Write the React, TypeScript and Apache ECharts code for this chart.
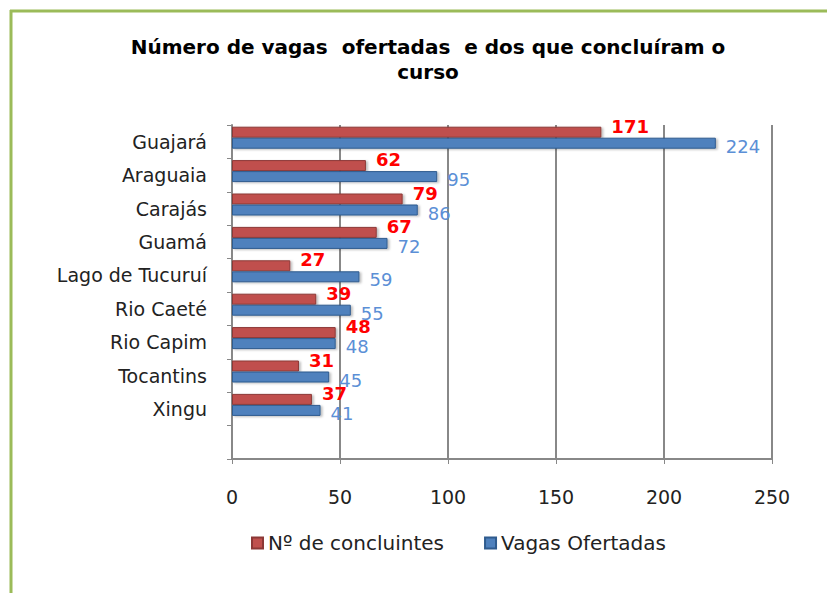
import React, { useEffect, useRef } from "react";
import * as echarts from "echarts";

const categories = [
  "Guajará",
  "Araguaia",
  "Carajás",
  "Guamá",
  "Lago de Tucuruí",
  "Rio Caeté",
  "Rio Capim",
  "Tocantins",
  "Xingu",
  "",
];
const concluintes = [171, 62, 79, 67, 27, 39, 48, 31, 37, null];
const vagas = [224, 95, 86, 72, 59, 55, 48, 45, 41, null];
const xTicks = { min: 0, max: 250, interval: 50 };
const titleText = "Número de vagas  ofertadas  e dos que concluíram o\ncurso";
const seriesNames = ["Nº de concluintes", "Vagas Ofertadas"];

export default function App() {
  const ref = useRef<HTMLDivElement>(null);
  useEffect(() => {
    if (!ref.current) return;
    const chart = echarts.init(ref.current, null, { renderer: "svg" });
    const labelFont = "'DejaVu Sans', sans-serif";
    chart.setOption({
      animation: false,
      backgroundColor: "#ffffff",
      title: {
        text: titleText,
        left: 423,
        textAlign: "center",
        top: 29,
        textStyle: {
          fontFamily: "'DejaVu Sans', sans-serif",
          fontWeight: "bold",
          fontSize: 20,
          lineHeight: 25,
          color: "#000",
        },
      },
      graphic: [
        {
          type: "line",
          shape: { x1: 10, y1: 11, x2: 827, y2: 11 },
          style: { stroke: "#9BBB59", lineWidth: 3 },
        },
        {
          type: "line",
          shape: { x1: 11, y1: 10, x2: 11, y2: 593 },
          style: { stroke: "#9BBB59", lineWidth: 3 },
        },
      ],
      legend: {
        bottom: 35,
        left: 246,
        itemWidth: 11,
        itemHeight: 11,
        itemGap: 40,
        icon: "rect",
        textStyle: { fontFamily: labelFont, fontSize: 20, color: "#222" },
        data: seriesNames,
      },
      grid: [
        { left: 232, right: 55, top: 125, bottom: 134 },
        { left: 232, right: 55, top: 121, bottom: 138 },
      ],
      xAxis: [
        {
          type: "value",
          gridIndex: 0,
          ...xTicks,
          axisLine: { show: true, lineStyle: { color: "#888", width: 2 } },
          axisTick: { show: true, length: 5, lineStyle: { color: "#888" } },
          splitLine: { show: true, lineStyle: { color: "#888", width: 2 } },
          axisLabel: {
            margin: 28,
            fontFamily: labelFont,
            fontSize: 19,
            color: "#222",
          },
        },
        {
          type: "value",
          gridIndex: 1,
          ...xTicks,
          show: false,
          splitLine: { show: false },
        },
      ],
      yAxis: [
        {
          type: "category",
          gridIndex: 0,
          inverse: true,
          data: categories,
          axisLine: { show: true, lineStyle: { color: "#888", width: 2 } },
          axisTick: { show: true, length: 5, lineStyle: { color: "#888" } },
          axisLabel: {
            margin: 25,
            fontFamily: labelFont,
            fontSize: 19,
            color: "#222",
          },
        },
        {
          type: "category",
          gridIndex: 1,
          inverse: true,
          data: categories,
          show: false,
        },
      ],
      series: [
        {
          name: seriesNames[0],
          type: "bar",
          xAxisIndex: 1,
          yAxisIndex: 1,
          data: concluintes,
          barWidth: 11,
          barGap: "0%",
          itemStyle: {
            color: "#C0504D",
            borderColor: "#8C3836",
            borderWidth: 1,
            shadowColor: "rgba(0,0,0,0.25)",
            shadowOffsetX: 2,
            shadowOffsetY: 1,
            shadowBlur: 2,
          },
          label: {
            show: true,
            position: "right",
            distance: 10,
            offset: [0, -6],
            color: "#FF0000",
            fontWeight: "bold",
            fontFamily: labelFont,
            fontSize: 18,
            lineHeight: 13,
          },
        },
        {
          name: seriesNames[1],
          type: "bar",
          xAxisIndex: 1,
          yAxisIndex: 1,
          data: vagas,
          barWidth: 11,
          barGap: "0%",
          itemStyle: {
            color: "#4F81BD",
            borderColor: "#2F5B8E",
            borderWidth: 1,
            shadowColor: "rgba(0,0,0,0.25)",
            shadowOffsetX: 2,
            shadowOffsetY: 1,
            shadowBlur: 2,
          },
          label: {
            show: true,
            position: "right",
            distance: 10,
            offset: [0, 3],
            color: "#5B8FD6",
            fontFamily: labelFont,
            fontSize: 18,
            lineHeight: 13,
          },
        },
      ],
    });
    return () => chart.dispose();
  }, []);
  return (
    <div
      ref={ref}
      style={{ position: "fixed", left: 0, top: 0, width: 827, height: 593 }}
    />
  );
}
